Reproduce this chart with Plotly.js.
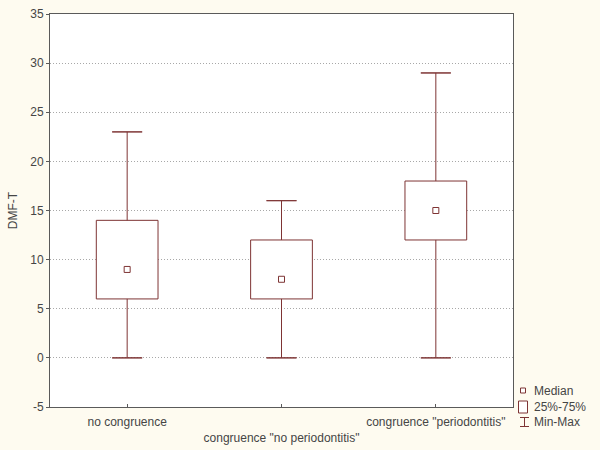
<!DOCTYPE html>
<html>
<head>
<meta charset="utf-8">
<script src="https://cdn.plot.ly/plotly-3.0.1.min.js"></script>
<style>html,body{margin:0;padding:0;background:#FEFBF0;}</style>
</head>
<body>
<div id="chart" style="width:600px;height:450px;"></div>
<script>
const categories = ['no congruence', 'congruence "no periodontitis"', 'congruence "periodontitis"'];
const tickLabels = ['no congruence', '<br>congruence "no periodontitis"', 'congruence "periodontitis"'];
const minVals = [0, 0, 0];
const q1Vals = [6, 6, 12];
const medianVals = [9, 8, 15];
const q3Vals = [14, 12, 18];
const maxVals = [23, 16, 29];
const yTickVals = [-5, 0, 5, 10, 15, 20, 25, 30, 35];
const yTickText = ['-5', '0', '5', '10', '15', '20', '25', '30', '35'];

const boxColor = '#7E3434';
const W = 600, H = 450;
const M = {l: 50, r: 87, t: 14, b: 43};
const pw = W - M.l - M.r, ph = H - M.t - M.b;
const px = x => (x - M.l) / pw;
const py = y => (H - M.b - y) / ph;

const boxes = {
  type: 'bar', x: categories,
  base: q1Vals, y: q3Vals.map((v, i) => v - q1Vals[i]),
  width: 0.4,
  marker: {color: '#FFFFFF', line: {color: boxColor, width: 1}},
  showlegend: false, hoverinfo: 'skip'
};
// whisker stems: q3 -> max and min -> q1, as segments separated by nulls
const stemX = [], stemY = [];
categories.forEach((c, i) => {
  stemX.push(c, c, null, c, c, null);
  stemY.push(q3Vals[i], maxVals[i], null, minVals[i], q1Vals[i], null);
});
const stems = {
  type: 'scatter', mode: 'lines', x: stemX, y: stemY, connectgaps: false,
  line: {color: boxColor, width: 1},
  showlegend: false, hoverinfo: 'skip'
};
// whisker caps: zero-length error bars at min and max
const capBar = {type: 'data', symmetric: true, array: [0, 0, 0], color: boxColor, thickness: 1, width: 15};
const capsMax = {
  type: 'scatter', mode: 'markers', x: categories, y: maxVals,
  marker: {color: 'rgba(0,0,0,0)', size: 1}, error_y: capBar,
  showlegend: false, hoverinfo: 'skip'
};
const capsMin = {
  type: 'scatter', mode: 'markers', x: categories, y: minVals,
  marker: {color: 'rgba(0,0,0,0)', size: 1}, error_y: capBar,
  showlegend: false, hoverinfo: 'skip'
};
const medians = {
  type: 'scatter', mode: 'markers', x: categories, y: medianVals,
  marker: {symbol: 'square-open', size: 6, color: boxColor, line: {width: 1, color: boxColor}},
  showlegend: false, hoverinfo: 'skip'
};

const font = {family: 'Liberation Sans, Arial, sans-serif', size: 12, color: '#454545'};

const shapes = [
  {type: 'rect', xref: 'paper', yref: 'paper', x0: px(520.5), x1: px(525.5), y0: py(393), y1: py(388),
   line: {color: boxColor, width: 1}, fillcolor: '#FFFFFF'},
  {type: 'rect', xref: 'paper', yref: 'paper', x0: px(518.5), x1: px(527.5), y0: py(413), y1: py(401),
   line: {color: boxColor, width: 1}, fillcolor: '#FFFFFF'},
  {type: 'line', xref: 'paper', yref: 'paper', x0: px(524.5), x1: px(524.5), y0: py(417), y1: py(427),
   line: {color: boxColor, width: 1}},
  {type: 'line', xref: 'paper', yref: 'paper', x0: px(520), x1: px(529), y0: py(417.5), y1: py(417.5),
   line: {color: boxColor, width: 1}},
  {type: 'line', xref: 'paper', yref: 'paper', x0: px(520), x1: px(529), y0: py(426.5), y1: py(426.5),
   line: {color: boxColor, width: 1}}
];
const legendText = ['Median', '25%-75%', 'Min-Max'];
const legendY = [391, 407, 422];
const annotations = legendText.map((t, i) => ({
  text: t, xref: 'paper', yref: 'paper', x: px(532), y: py(legendY[i]),
  xanchor: 'left', yanchor: 'middle', showarrow: false, font: font
}));

const layout = {
  width: W, height: H,
  margin: M,
  paper_bgcolor: '#FEFBF0', plot_bgcolor: '#FFFFFF',
  font: font,
  showlegend: false,
  bargap: 0,
  xaxis: {
    type: 'category', tickvals: categories, ticktext: tickLabels,
    showline: true, mirror: true, linecolor: '#5A5A5A', linewidth: 1,
    ticks: 'inside', ticklen: 3, tickcolor: '#5A5A5A', ticklabelstandoff: 4,
    showgrid: false, zeroline: false, tickfont: font, automargin: false
  },
  yaxis: {
    range: [-5, 35], tickvals: yTickVals, ticktext: yTickText,
    showline: true, mirror: true, linecolor: '#5A5A5A', linewidth: 1,
    ticks: 'outside', ticklen: 3, tickcolor: '#5A5A5A',
    showgrid: true, gridcolor: '#A8A8A8', griddash: '1px,2px', gridwidth: 1,
    zeroline: false, tickfont: font, automargin: false,
    title: {text: 'DMF-T', font: font, standoff: 10}
  },
  yaxis2: {
    overlaying: 'y', side: 'right', range: [-5, 35], tickvals: yTickVals,
    ticks: 'inside', ticklen: 3, tickcolor: '#5A5A5A',
    showticklabels: false, showgrid: false, zeroline: false, showline: false
  },
  shapes: shapes,
  annotations: annotations
};

Plotly.newPlot('chart', [boxes, stems, capsMax, capsMin, medians], layout, {displayModeBar: false, staticPlot: true});
</script>
</body>
</html>
